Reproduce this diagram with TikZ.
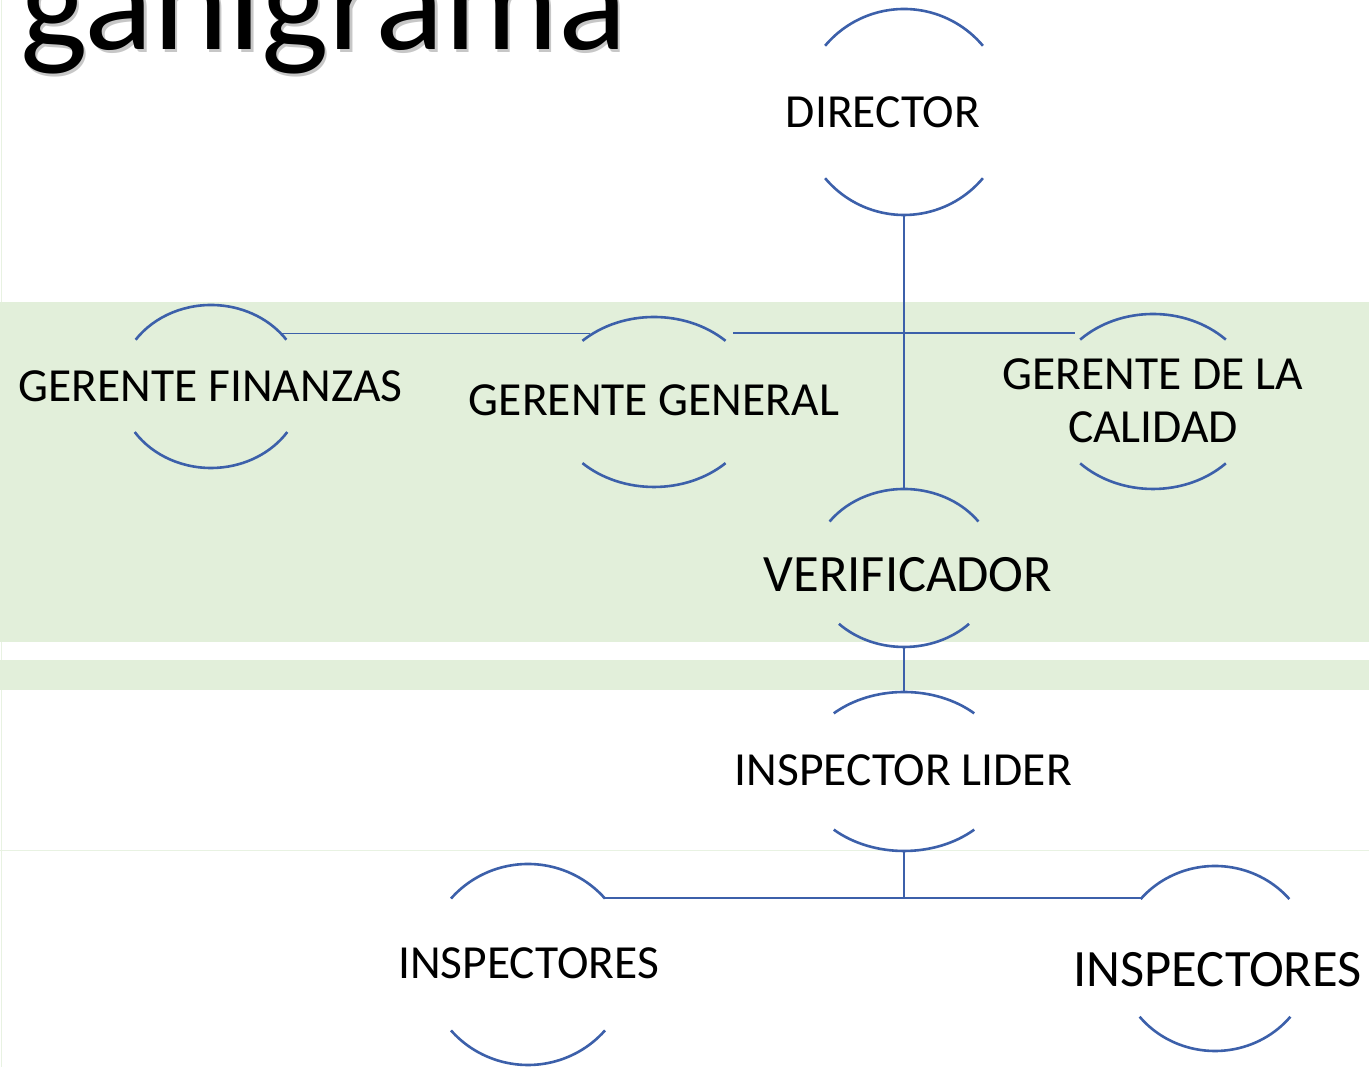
\documentclass[tikz,border=0pt]{standalone}
\usepackage{fontspec}
\setmainfont{Carlito}
\usepackage{tikz}
\usetikzlibrary{shapes.geometric}
\definecolor{azul}{RGB}{60,96,170}
\definecolor{verde}{RGB}{226,239,218}
\definecolor{borde}{RGB}{232,242,226}

% arcos de arriba y de abajo de cada puesto
\newcommand{\arcos}[5]{%
  \draw[linea] ([shift={(180-#4:#2 and #3)}]#1.center) arc[start angle=180-#4,end angle=#4,x radius=#2,y radius=#3];
  \draw[linea] ([shift={(180+#5:#2 and #3)}]#1.center) arc[start angle=180+#5,end angle=360-#5,x radius=#2,y radius=#3];}

\begin{document}
\begin{tikzpicture}[x=1pt,y=1pt,
  puesto/.style={ellipse,inner sep=0pt,outer sep=0pt},
  rotulo/.style={inner sep=0pt,font=\fontsize{47.5}{53}\selectfont,align=center},
  grande/.style={inner sep=0pt,font=\fontsize{52.5}{58}\selectfont},
  linea/.style={draw=azul,line width=2.6pt},
  fina/.style={draw=azul,line width=1.6pt}]
\useasboundingbox (0,0) rectangle (1369,1067);
\clip (0,0) rectangle (1369,1067);
\fill[white] (0,0) rectangle (1369,1067);
\draw[borde,line width=1pt] (1.5,0) -- (1.5,1067);
\draw[borde,line width=1pt] (0,216) -- (1369,216);
\fill[verde] (0,425) rectangle (1369,765);
\fill[verde] (0,377) rectangle (1369,407);

% titulo
\node[anchor=base west,inner sep=0pt,text=black!22,font=\fontsize{143}{150}\selectfont] (sombra) at (22.5,1014.5) {ganigrama};
\node[anchor=base west,inner sep=0pt,font=\fontsize{143}{150}\selectfont] (titulo) at (20,1017) {ganigrama};

% puestos
\node[puesto,minimum width=206pt,minimum height=206pt] (dir) at (904,955) {};
\node[puesto,minimum width=184pt,minimum height=163pt] (fin) at (211,680.5) {};
\node[puesto,minimum width=206pt,minimum height=170pt] (gen) at (654,665) {};
\node[puesto,minimum width=206pt,minimum height=175pt] (cal) at (1153,665.5) {};
\node[puesto,minimum width=184pt,minimum height=158pt] (ver) at (904,499) {};
\node[puesto,minimum width=206pt,minimum height=159pt] (lid) at (904,295.5) {};
\node[puesto,minimum width=204pt,minimum height=201pt] (insI) at (528,102.5) {};
\node[puesto,minimum width=194pt,minimum height=185pt] (insD) at (1215,108.5) {};

\node[rotulo] (tdir) at (883,955) {DIRECTOR};
\node[rotulo] (tfin) at (210.5,681) {GERENTE FINANZAS};
\node[rotulo] (tgen) at (654,667) {GERENTE GENERAL};
\node[rotulo] (tcal) at (1153,666.5) {GERENTE DE LA\\CALIDAD};
\node[grande] (tver) at (908,492.5) {VERIFICADOR};
\node[rotulo] (tlid) at (903.5,297) {INSPECTOR LIDER};
\node[rotulo] (tinsI) at (528.5,103.5) {INSPECTORES};
\node[grande] (tinsD) at (1217.5,97.5) {INSPECTORES};

\arcos{dir}{103}{103}{40}{40}
\arcos{fin}{92}{81.5}{35}{34}
\arcos{gen}{103}{85}{46}{46}
\arcos{cal}{103}{87.5}{45}{45}
\arcos{ver}{92}{79}{36}{45}
\arcos{lid}{103}{79.5}{47}{47}
\arcos{insI}{102}{100.5}{41}{41}
\arcos{insD}{97}{92.5}{40}{39}

% lineas
\coordinate (barraI) at (733,734);
\coordinate (barraD) at (1075,734);
\draw[linea] (dir.south) -- (dir.south |- ver.north);
\draw[fina] (fin.37) -- (fin.37 -| gen.134);
\draw[linea] (barraI) -- (barraD);
\draw[linea] (ver.south) -- (lid.north);
\draw[linea] (lid.south) |- (insI.41);
\draw[fina] (insI.41 -| lid.south) -- (insI.41 -| insD.139);
\end{tikzpicture}
\end{document}
